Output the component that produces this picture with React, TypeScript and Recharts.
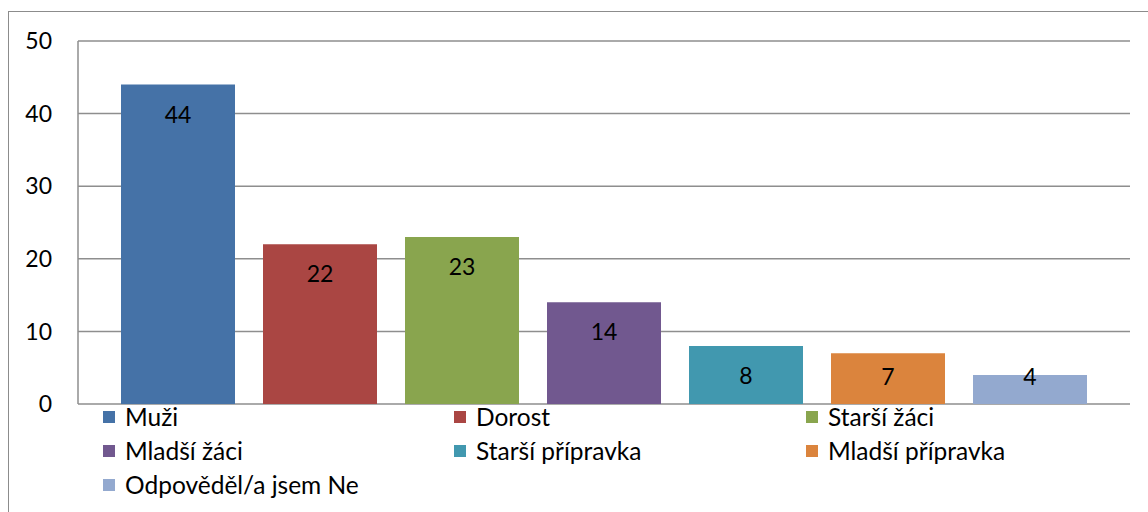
import React from "react";
import { BarChart, Bar, XAxis, YAxis, CartesianGrid, LabelList } from "recharts";

const seriesNames = [
  "Muži",
  "Dorost",
  "Starší žáci",
  "Mladší žáci",
  "Starší přípravka",
  "Mladší přípravka",
  "Odpověděl/a jsem Ne",
];
const seriesValues = [44, 22, 23, 14, 8, 7, 4];
const seriesColors = ["#4572A7", "#AA4643", "#89A54E", "#71588F", "#4198AF", "#DB843D", "#93A9CF"];
const yTicks = [0, 10, 20, 30, 40, 50];

const row: Record<string, string | number> = { name: "" };
seriesNames.forEach((n, i) => {
  row["s" + i] = seriesValues[i];
});
const data = [row];

const FONT = "Lato, 'Noto Sans', sans-serif";
const GRID = "#8e8e8e";

const renderLabel = (props: any) => {
  const x = Number(props.x);
  const y = Number(props.y);
  const w = Number(props.width);
  const h = Number(props.height);
  const cy = Math.min(y + 29, y + h - 28);
  return (
    <text
      x={x + w / 2}
      y={cy}
      textAnchor="middle"
      dominantBaseline="central"
      fontSize={23}
      fontFamily={FONT}
      fill="#000"
    >
      {props.value}
    </text>
  );
};

export default function App() {
  return (
    <div
      style={{
        position: "absolute",
        left: 8,
        top: 11,
        width: 1140,
        height: 501,
        borderLeft: "1px solid #8c8c8c",
        borderTop: "1px solid #8c8c8c",
        boxSizing: "border-box",
        background: "#fff",
        fontFamily: FONT,
      }}
    >
      <div style={{ position: "absolute", left: 0, top: 0 }}>
        <BarChart
          width={1139}
          height={420}
          data={data}
          margin={{ top: 29, right: 18, bottom: 28, left: 0 }}
          barCategoryGap={43}
          barGap={28}
        >
          <CartesianGrid vertical={false} stroke={GRID} strokeWidth={1.5} />
          <XAxis dataKey="name" height={0} tick={false} tickLine={false} axisLine={{ stroke: GRID, strokeWidth: 1.5 }} />
          <YAxis
            width={69}
            domain={[0, 50]}
            ticks={yTicks}
            interval={0}
            tickLine={false}
            axisLine={{ stroke: GRID, strokeWidth: 1.5 }}
            tickMargin={20}
            tick={{ fill: "#000", fontSize: 23, fontFamily: FONT }}
          />
          {seriesNames.map((n, i) => (
            <Bar
              key={n}
              dataKey={"s" + i}
              name={n}
              fill={seriesColors[i]}
              barSize={114}
              isAnimationActive={false}
            >
              <LabelList dataKey={"s" + i} content={renderLabel} />
            </Bar>
          ))}
        </BarChart>
      </div>
      <div
        style={{
          position: "absolute",
          left: 94,
          top: 388,
          display: "grid",
          gridTemplateColumns: "351px 352px 300px",
          gridAutoRows: "34px",
        }}
      >
        {seriesNames.map((n, i) => (
          <div key={n} style={{ display: "flex", alignItems: "center", height: 34 }}>
            <span
              style={{
                display: "inline-block",
                width: 12,
                height: 12,
                background: seriesColors[i],
                marginRight: 10,
                flexShrink: 0,
              }}
            />
            <span style={{ fontSize: 24.5, color: "#000", whiteSpace: "nowrap", lineHeight: "34px" }}>{n}</span>
          </div>
        ))}
      </div>
    </div>
  );
}
